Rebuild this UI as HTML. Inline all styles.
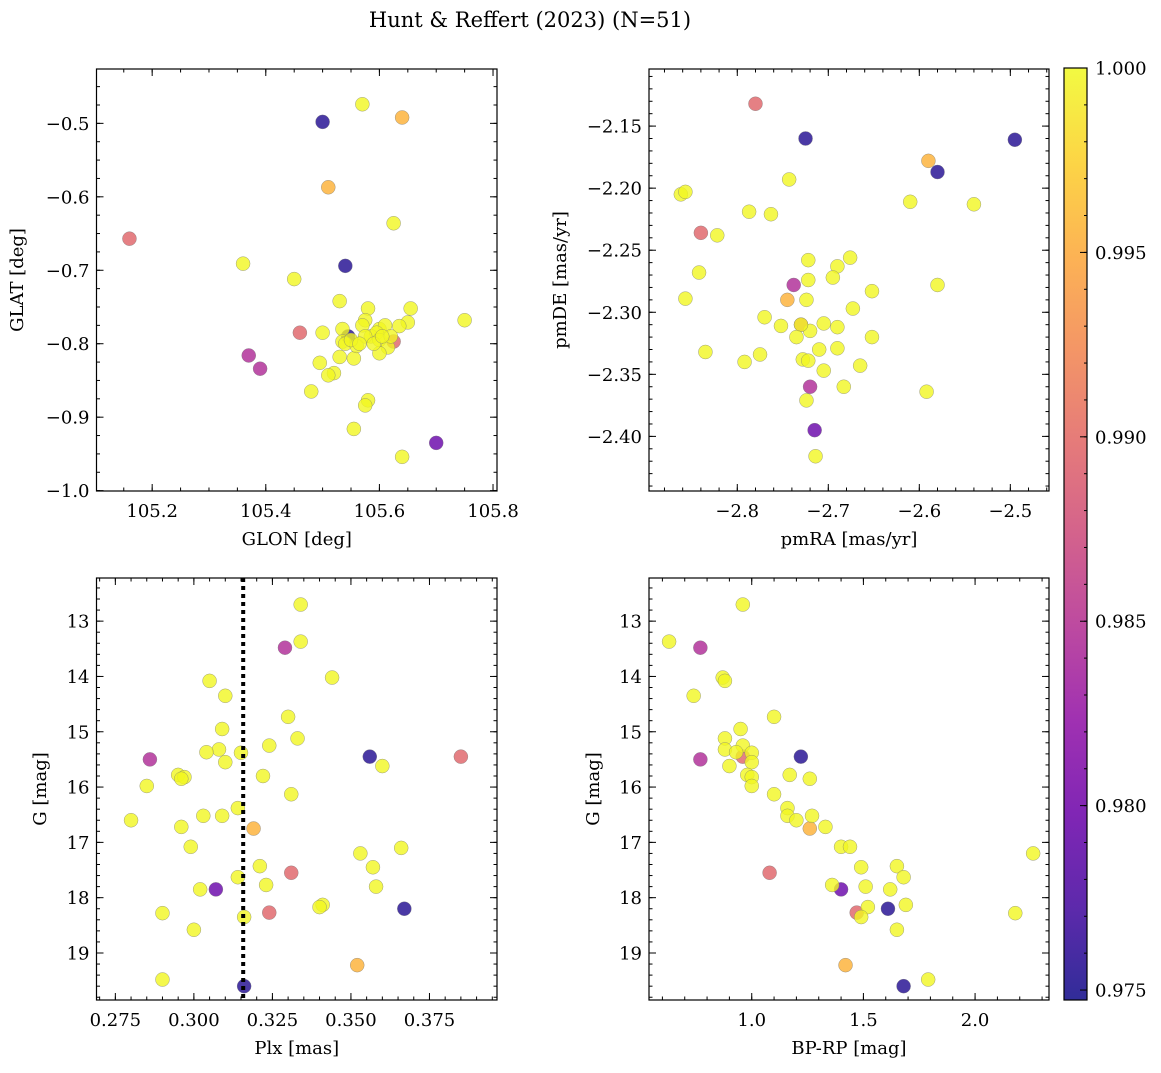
<!DOCTYPE html>
<html><head><meta charset="utf-8">
<style>
html,body{margin:0;padding:0;background:#fff;}
svg text{font-family:"DejaVu Serif","Liberation Serif",serif;fill:#000;}
</style></head>
<body>
<svg id="fig" width="1161" height="1068" viewBox="0 0 1161 1068" xmlns="http://www.w3.org/2000/svg">
<defs>
<linearGradient id="plasma" x1="0" y1="1" x2="0" y2="0">
<stop offset="0" stop-color="#0d0887"/><stop offset="0.1" stop-color="#41049d"/><stop offset="0.2" stop-color="#6a00a8"/><stop offset="0.3" stop-color="#8f0da4"/><stop offset="0.4" stop-color="#b12a90"/><stop offset="0.5" stop-color="#cc4778"/><stop offset="0.6" stop-color="#e16462"/><stop offset="0.7" stop-color="#f2844b"/><stop offset="0.8" stop-color="#fca636"/><stop offset="0.9" stop-color="#fcce25"/><stop offset="1" stop-color="#f0f921"/>
</linearGradient>
</defs>
<text x="530" y="27" font-size="21" text-anchor="middle">Hunt &amp; Reffert (2023) (N=51)</text>
</svg>
<script>
// star data (colored members first, then high-probability members)
const glon = [105.50,105.54,105.545,105.70,105.37,105.39,105.16,105.46,105.625,105.64,105.51,
105.57,105.625,105.36,105.45,105.75,105.53,105.58,105.655,105.575,105.65,105.635,105.50,105.57,105.535,105.60,105.61,105.585,105.595,105.535,105.54,105.575,105.60,105.615,105.53,105.555,105.60,105.495,105.52,105.51,105.56,105.48,105.58,105.575,105.555,105.64,105.62,105.59,105.55,105.565,105.605];
const glat = [-0.498,-0.694,-0.790,-0.935,-0.816,-0.834,-0.657,-0.785,-0.797,-0.492,-0.587,
-0.474,-0.636,-0.691,-0.712,-0.768,-0.742,-0.752,-0.752,-0.768,-0.771,-0.776,-0.785,-0.775,-0.780,-0.780,-0.775,-0.790,-0.785,-0.797,-0.800,-0.790,-0.795,-0.805,-0.818,-0.820,-0.813,-0.826,-0.840,-0.843,-0.803,-0.865,-0.877,-0.884,-0.916,-0.954,-0.790,-0.800,-0.795,-0.800,-0.790];
const pmra = [-2.495,-2.725,-2.58,-2.715,-2.738,-2.72,-2.78,-2.84,-2.73,-2.59,-2.745,
-2.862,-2.857,-2.787,-2.763,-2.822,-2.743,-2.61,-2.54,-2.842,-2.857,-2.835,-2.792,-2.775,-2.77,-2.752,-2.722,-2.722,-2.724,-2.676,-2.69,-2.695,-2.652,-2.58,-2.673,-2.72,-2.705,-2.69,-2.73,-2.735,-2.728,-2.722,-2.71,-2.69,-2.652,-2.665,-2.705,-2.683,-2.592,-2.724,-2.714];
const pmde = [-2.161,-2.160,-2.187,-2.395,-2.278,-2.360,-2.132,-2.236,-2.310,-2.178,-2.290,
-2.205,-2.203,-2.219,-2.221,-2.238,-2.193,-2.211,-2.213,-2.268,-2.289,-2.332,-2.340,-2.334,-2.304,-2.311,-2.258,-2.274,-2.290,-2.256,-2.263,-2.272,-2.283,-2.278,-2.297,-2.315,-2.309,-2.312,-2.310,-2.320,-2.338,-2.339,-2.330,-2.329,-2.320,-2.343,-2.347,-2.360,-2.364,-2.371,-2.416];
const plx = [0.356,0.367,0.316,0.307,0.286,0.329,0.324,0.331,0.385,0.319,0.352,
0.334,0.334,0.344,0.305,0.310,0.309,0.330,0.333,0.324,0.308,0.304,0.315,0.310,0.360,0.295,0.297,0.296,0.322,0.285,0.331,0.314,0.303,0.309,0.280,0.296,0.299,0.366,0.353,0.321,0.357,0.314,0.323,0.358,0.302,0.341,0.340,0.290,0.316,0.300,0.290];
const gmag = [15.45,18.2,19.6,17.85,15.5,13.48,18.27,17.55,15.45,16.75,19.22,
12.7,13.37,14.02,14.08,14.35,14.95,14.73,15.12,15.25,15.32,15.37,15.38,15.55,15.62,15.78,15.82,15.85,15.8,15.98,16.13,16.38,16.52,16.52,16.6,16.72,17.08,17.1,17.2,17.43,17.45,17.63,17.77,17.8,17.85,18.13,18.17,18.28,18.35,18.58,19.48];
const gmag2 = [15.45,18.2,19.6,17.85,15.5,13.48,18.27,17.55,15.45,16.75,19.22,
12.7,13.37,14.02,14.08,14.35,14.73,14.95,15.12,15.25,15.32,15.37,15.38,15.55,15.62,15.78,15.82,15.78,15.85,15.98,16.13,16.38,16.52,16.52,16.6,16.72,17.08,17.08,17.2,17.43,17.45,17.63,17.77,17.8,17.85,18.13,18.17,18.28,18.35,18.58,19.48];
const bprp = [1.22,1.61,1.68,1.40,0.77,0.77,1.47,1.08,0.96,1.26,1.42,
0.96,0.63,0.87,0.88,0.74,1.10,0.95,0.88,0.96,0.88,0.93,1.00,1.00,0.90,0.98,1.00,1.17,1.26,1.00,1.10,1.16,1.16,1.27,1.20,1.33,1.40,1.44,2.26,1.65,1.49,1.68,1.36,1.51,1.62,1.69,1.52,2.18,1.49,1.65,1.79];
const prob = [0.9755,0.9755,0.9755,0.9795,0.9845,0.9845,0.9895,0.9895,0.9895,0.9955,0.9955,
0.9998,0.9998,0.9998,0.9998,0.9998,0.9998,0.9998,0.9998,0.9998,0.9998,0.9998,0.9998,0.9998,0.9998,0.9998,0.9998,0.9998,0.9998,0.9998,0.9998,0.9998,0.9998,0.9998,0.9998,0.9998,0.9998,0.9998,0.9998,0.9998,0.9998,0.9998,0.9998,0.9998,0.9998,0.9998,0.9998,0.9998,0.9998,0.9998,0.9998];
const plxLine = 0.3157;
const cbTicks = [0.975,0.980,0.985,0.990,0.995,1.000];
const cbMin = 0.97473, cbMax = 1.0;

const NS='http://www.w3.org/2000/svg';
const svg=document.getElementById('fig');
function mk(tag,attrs,parent){const e=document.createElementNS(NS,tag);for(const k in attrs)e.setAttribute(k,attrs[k]);(parent||svg).appendChild(e);return e;}

const stops=[[0,[13,8,135]],[0.1,[65,4,157]],[0.2,[106,0,168]],[0.3,[143,13,164]],[0.4,[177,42,144]],[0.5,[204,71,120]],[0.6,[225,100,98]],[0.7,[242,132,75]],[0.8,[252,166,54]],[0.9,[252,206,37]],[1,[240,249,33]]];
function plasma(t){t=Math.max(0,Math.min(1,t));for(let i=1;i<stops.length;i++){if(t<=stops[i][0]){const a=stops[i-1],b=stops[i];const f=(t-a[0])/(b[0]-a[0]);const c=a[1].map((v,j)=>Math.round(v+(b[1][j]-v)*f));return 'rgb('+c.join(',')+')';}}return 'rgb(240,249,33)';}

function fmt(v,d){const s=Math.abs(v).toFixed(d);return (v<0?'\u2212':'')+s;}

function panel(o){
  const g=mk('g',{});
  
  
  const X=v=>o.l+(v-o.x0)/(o.x1-o.x0)*(o.r-o.l);
  const Y=v=>o.b-(v-o.y0)/(o.y1-o.y0)*(o.b-o.t);
  const tg=mk('g',{stroke:'#000','stroke-width':1},g);
  
  
  const eps=1e-9;
  function ticksX(step,len){const s=Math.ceil((Math.min(o.x0,o.x1))/step-eps);for(let k=s;k*step<=Math.max(o.x0,o.x1)+eps;k++){const x=X(k*step);mk('line',{x1:x,x2:x,y1:o.b,y2:o.b-len},tg);mk('line',{x1:x,x2:x,y1:o.t,y2:o.t+len},tg);}}
  function ticksY(step,len){const lo=Math.min(o.y0,o.y1),hi=Math.max(o.y0,o.y1);const s=Math.ceil(lo/step-eps);for(let k=s;k*step<=hi+eps;k++){const y=Y(k*step);mk('line',{y1:y,y2:y,x1:o.l,x2:o.l+len},tg);mk('line',{y1:y,y2:y,x1:o.r,x2:o.r-len},tg);}}
  ticksX(o.xmin,3.5);ticksY(o.ymin,3.5);
  o.xt.forEach(v=>{const x=X(v);mk('line',{x1:x,x2:x,y1:o.b,y2:o.b-7},tg);mk('line',{x1:x,x2:x,y1:o.t,y2:o.t+7},tg);
    const t=mk('text',{x:x,y:o.b+26,'font-size':18,'text-anchor':'middle'},g);t.textContent=fmt(v,o.xd);
    });
  o.yt.forEach(v=>{const y=Y(v);mk('line',{y1:y,y2:y,x1:o.l,x2:o.l+7},tg);mk('line',{y1:y,y2:y,x1:o.r,x2:o.r-7},tg);
    const t=mk('text',{x:o.l-7,y:y+6.5,'font-size':18,'text-anchor':'end'},g);t.textContent=fmt(v,o.yd);
    });
  const pg=mk('g',{},g);
  
  
  for(let i=0;i<o.xs.length;i++){
    const c=mk('circle',{cx:X(o.xs[i]),cy:Y(o.ys[i]),r:7,fill:plasma((prob[i]-cbMin)/(cbMax-cbMin)),'fill-opacity':0.8,stroke:'#777','stroke-width':0.5,'stroke-opacity':0.7},pg);
    
    
  }
  if(o.vline!==undefined){
    const ln=mk('line',{x1:X(o.vline),x2:X(o.vline),y1:o.t,y2:o.b,stroke:'#000','stroke-width':4,'stroke-dasharray':'4,4'},g);
    
    
  }
  const fr=mk('rect',{x:o.l,y:o.t,width:o.r-o.l,height:o.b-o.t,fill:'none',stroke:'#000','stroke-width':1.2},g);
  
  
  const xl=mk('text',{x:(o.l+o.r)/2,y:o.b+54,'font-size':18,'text-anchor':'middle'},g);xl.textContent=o.xlab;
  
  const yx=o.ylx,yy=(o.t+o.b)/2;
  const yl=mk('text',{x:yx,y:yy,'font-size':18,'text-anchor':'middle',transform:'rotate(-90 '+yx+' '+yy+')'},g);yl.textContent=o.ylab;
  
}

panel({name:'glon-glat-panel',l:96.5,r:497,t:69,b:491,x0:105.102,x1:105.807,y0:-1.0005,y1:-0.426,
  xt:[105.2,105.4,105.6,105.8],xd:1,yt:[-1.0,-0.9,-0.8,-0.7,-0.6,-0.5],yd:1,xmin:0.05,ymin:0.025,
  xs:glon,ys:glat,xlab:'GLON [deg]',ylab:'GLAT [deg]',ylx:23});
panel({name:'proper-motion-panel',l:649,r:1049,t:69,b:491,x0:-2.897,x1:-2.4575,y0:-2.444,y1:-2.104,
  xt:[-2.8,-2.7,-2.6,-2.5],xd:1,yt:[-2.40,-2.35,-2.30,-2.25,-2.20,-2.15],yd:2,xmin:0.02,ymin:0.01,
  xs:pmra,ys:pmde,xlab:'pmRA [mas/yr]',ylab:'pmDE [mas/yr]',ylx:566});
panel({name:'parallax-mag-panel',l:96.5,r:497,t:578,b:1000,x0:0.269,x1:0.3965,y0:19.85,y1:12.22,
  xt:[0.275,0.300,0.325,0.350,0.375],xd:3,yt:[13,14,15,16,17,18,19],yd:0,xmin:0.005,ymin:0.2,
  xs:plx,ys:gmag,xlab:'Plx [mas]',ylab:'G [mag]',ylx:46,vline:plxLine});
panel({name:'cmd-panel',l:649,r:1049,t:578,b:1000,x0:0.540,x1:2.331,y0:19.85,y1:12.22,
  xt:[1.0,1.5,2.0],xd:1,yt:[13,14,15,16,17,18,19],yd:0,xmin:0.1,ymin:0.2,
  xs:bprp,ys:gmag2,xlab:'BP-RP [mag]',ylab:'G [mag]',ylx:599});

const cb=mk('g',{});


const cbT=68,cbB=1000,cbL=1064,cbR=1087;
mk('rect',{x:cbL,y:cbT,width:cbR-cbL,height:cbB-cbT,fill:'url(#plasma)','fill-opacity':0.85},cb);
mk('rect',{x:cbL,y:cbT,width:cbR-cbL,height:cbB-cbT,fill:'none',stroke:'#000','stroke-width':1.2},cb);
const CY=v=>cbB-(v-cbMin)/(cbMax-cbMin)*(cbB-cbT);
for(let k=0;k<=25;k++){const v=0.975+k*0.001;const y=CY(v);if(y<cbT-0.5)continue;mk('line',{x1:cbR,x2:cbR-3,y1:y,y2:y,stroke:'#000'},cb);}
cbTicks.forEach(v=>{const y=CY(v);mk('line',{x1:cbR,x2:cbR-7,y1:y,y2:y,stroke:'#000'},cb);
  const t=mk('text',{x:cbR+8,y:y+6.5,'font-size':18},cb);t.textContent=v.toFixed(3);
  });
</script>
</body></html>
